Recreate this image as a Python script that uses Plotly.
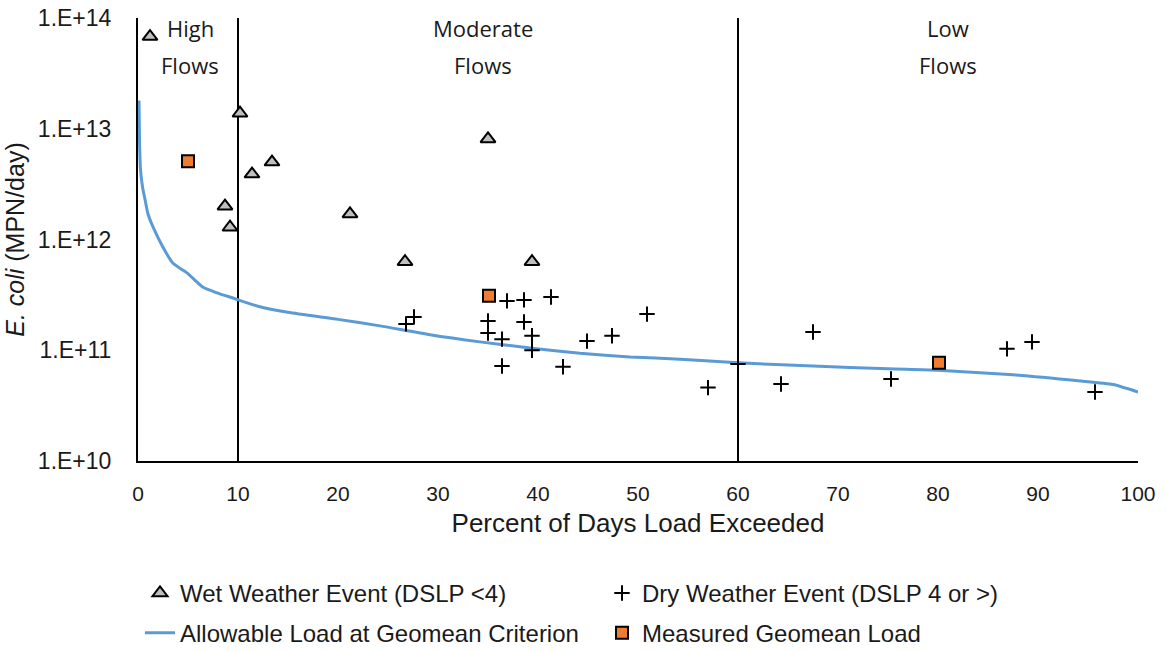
import plotly.graph_objects as go

# Load duration curve: allowable load at the geomean criterion
curve_pct = [0.1, 0.15, 0.25, 0.45, 0.7, 1.0, 1.5, 2.5, 3.5, 4.9, 6.5, 7.9, 9.5, 12, 15, 20,
             24.2, 29.2, 34.2, 39.2, 44.2, 49.2, 54.2, 60, 67.5, 75, 80, 87.5, 94, 97.5, 100]
curve_load = [1.8e13, 8e12, 4.3e12, 3.0e12, 2.3e12, 1.7e12, 1.3e12, 8.5e11, 6.1e11, 5.0e11,
              3.7e11, 3.3e11, 2.96e11, 2.5e11, 2.2e11, 1.9e11, 1.66e11, 1.38e11, 1.19e11,
              1.05e11, 9.4e10, 8.7e10, 8.3e10, 7.7e10, 7.2e10, 6.8e10, 6.6e10, 6.0e10,
              5.3e10, 4.9e10, 4.2e10]

# Wet weather events (DSLP < 4)
wet_pct = [1.2, 10.2, 13.4, 11.4, 8.7, 9.2, 21.2, 26.7, 35.0, 39.4]
wet_load = [6.8e13, 1.38e13, 5.0e12, 3.9e12, 2.0e12, 1.29e12, 1.7e12, 6.3e11, 8.1e12, 6.3e11]

# Dry weather events (DSLP 4 or more)
dry_pct = [26.8, 27.6, 36.9, 38.6, 41.3, 35.0, 38.6, 35.0, 36.4, 39.4, 39.4, 36.4, 42.5,
           44.9, 47.4, 50.9, 57.0, 60.0, 64.3, 67.5, 75.3, 86.9, 89.4, 95.7]
dry_load = [1.73e11, 2.0e11, 2.79e11, 2.85e11, 3.03e11, 1.84e11, 1.80e11, 1.43e11, 1.26e11,
            1.35e11, 1.0e11, 7.2e10, 7.1e10, 1.21e11, 1.35e11, 2.12e11, 4.6e10, 7.5e10,
            4.95e10, 1.46e11, 5.5e10, 1.03e11, 1.19e11, 4.2e10]

# Geomean load per flow regime
geo_pct = [5.0, 35.1, 80.1]
geo_load = [5.1e12, 3.1e11, 7.7e10]

# Flow regime boundaries and labels
flow_breaks = [10, 60]
zone_centers = [5.2, 34.5, 81.0]
zone_words = [("High", "Flows"), ("Moderate", "Flows"), ("Low", "Flows")]

y_tickvals = [1e10, 1e11, 1e12, 1e13, 1e14]
y_ticktext = ["1.E+10", "1.E+11", "1.E+12", "1.E+13", "1.E+14"]
x_tickvals = [0, 10, 20, 30, 40, 50, 60, 70, 80, 90, 100]

ARIAL = "Liberation Sans, Arial"
LABEL_FONT = "Open Sans"
TXT = "#1a1a1a"

fig = go.Figure()

fig.add_trace(go.Scatter(
    x=curve_pct, y=curve_load, mode="lines", name="Allowable Load at Geomean Criterion",
    line=dict(color="#5B9BD5", width=3, shape="spline", smoothing=0.6),
    legend="legend2", legendrank=3))
fig.add_trace(go.Scatter(
    x=wet_pct, y=wet_load, mode="markers", name="Wet Weather Event (DSLP <4)",
    marker=dict(symbol="triangle-up", size=13, color="#BFBFBF",
                line=dict(color="black", width=2)),
    legend="legend", legendrank=1))
fig.add_trace(go.Scatter(
    x=dry_pct, y=dry_load, mode="markers", name="Dry Weather Event (DSLP 4 or >)",
    marker=dict(symbol="cross-thin", size=11, color="black",
                line=dict(color="black", width=2)),
    legend="legend", legendrank=2))
fig.add_trace(go.Scatter(
    x=geo_pct, y=geo_load, mode="markers", name="Measured Geomean Load",
    marker=dict(symbol="square", size=12, color="#ED7D31",
                line=dict(color="black", width=2)),
    legend="legend2", legendrank=4))

for xb in flow_breaks:
    fig.add_shape(type="line", xref="x", yref="paper", x0=xb, x1=xb, y0=0, y1=1,
                  line=dict(color="black", width=2), layer="below")

for xc, (w1, w2) in zip(zone_centers, zone_words):
    fig.add_annotation(x=xc, y=0.978, xref="x", yref="paper", text=w1, showarrow=False,
                       yanchor="middle", font=dict(family=LABEL_FONT, size=22, color=TXT))
    fig.add_annotation(x=xc, y=0.895, xref="x", yref="paper", text=w2, showarrow=False,
                       yanchor="middle", font=dict(family=LABEL_FONT, size=22, color=TXT))

legend_common = dict(orientation="h", x=0.002, xanchor="left", yanchor="top",
                     entrywidth=417, entrywidthmode="pixels", traceorder="normal",
                     font=dict(family=ARIAL, size=24, color=TXT), itemwidth=30)

fig.update_layout(
    width=1167, height=651,
    margin=dict(l=138, r=29, t=18, b=190, autoexpand=False),
    paper_bgcolor="white", plot_bgcolor="white",
    font=dict(family=ARIAL, color=TXT),
    showlegend=True,
    legend=dict(y=-0.248, **legend_common),
    legend2=dict(y=-0.338, **legend_common),
)

fig.update_xaxes(
    range=[0, 100], tickvals=x_tickvals, showgrid=False, zeroline=False,
    showline=True, linecolor="black", linewidth=2, ticks="", automargin=False,
    ticklabelstandoff=13, tickfont=dict(family=ARIAL, size=21, color=TXT),
    title=dict(text="Percent of Days Load Exceeded", standoff=10,
               font=dict(family=ARIAL, size=26, color=TXT)))

fig.update_yaxes(
    type="log", range=[10, 14], tickvals=y_tickvals, ticktext=y_ticktext,
    showgrid=False, zeroline=False, showline=True, linecolor="black", linewidth=2,
    ticks="", automargin=False, ticklabelstandoff=20,
    tickfont=dict(family=ARIAL, size=23, color=TXT),
    title=dict(text="<i>E. coli</i> (MPN/day)", standoff=6,
               font=dict(family=ARIAL, size=25, color=TXT)))

fig.write_html("out.html")
